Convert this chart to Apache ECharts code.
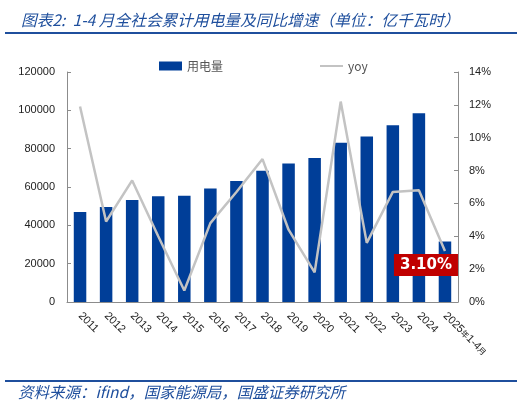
<!DOCTYPE html>
<html>
<head>
<meta charset="utf-8">
<script src="https://cdn.jsdelivr.net/npm/echarts@6/dist/echarts.min.js"></script>
<style>
    html, body { margin: 0; padding: 0; background: #fff; }
    #chart { width: 531px; height: 406px; }
</style>
</head>
<body>
<div id="chart"></div>
<script>
    // 数据
    const categories = ['2011', '2012', '2013', '2014', '2015', '2016', '2017', '2018',
        '2019', '2020', '2021', '2022', '2023', '2024', '2025年1-4月']
    const usageValues = [46928, 49591, 53223, 55233, 55500, 59198, 63077, 68449,
        72255, 75110, 83128, 86372, 92241, 98521, 31566]
    const yoyValues = [11.9, 4.9, 7.4, 4.0, 0.7, 4.8, 6.7, 8.7, 4.4, 1.8, 12.2, 3.6, 6.7, 6.8, 3.1]
    const leftTicks = [0, 20000, 40000, 60000, 80000, 100000, 120000]
    const rightTicks = [0, 2, 4, 6, 8, 10, 12, 14]

    const blue = '#003e98'
    const titleBlue = '#1f4f9d'
    const axisColor = '#8c8c8c'
    const lineGray = '#c3c3c3'
    const numFont = 'Liberation Sans'
    const cjkFont = 'Noto Sans CJK SC'

    // 最后一个点带红色标签
    const yoyData = yoyValues.map((v, i) => {
        if (i !== yoyValues.length - 1) return v
        return {
            value: v,
            label: {
                show: true,
                position: 'inside',
                offset: [-19, 14],
                formatter: v.toFixed(2) + '%',
                color: '#fff',
                fontWeight: 'bold',
                fontSize: 15,
                fontFamily: 'DejaVu Sans',
                backgroundColor: '#c00000',
                padding: [4, 6, 3, 6]
            }
        }
    })

    const chart = echarts.init(document.getElementById('chart'))
    const option = {
        animation: false,
        backgroundColor: '#fff',
        title: {
            text: '图表2:  1-4 月全社会累计用电量及同比增速（单位：亿千瓦时）',
            left: 16,
            top: 7,
            textStyle: {
                color: titleBlue,
                fontSize: 15.7,
                fontStyle: 'italic',
                fontWeight: 'normal',
                fontFamily: cjkFont
            }
        },
        graphic: [
            { type: 'rect', shape: { x: 5, y: 32, width: 512, height: 2 }, style: { fill: titleBlue } },
            { type: 'rect', shape: { x: 5, y: 380, width: 512, height: 2 }, style: { fill: titleBlue } },
            {
                type: 'text', left: 18, top: 384,
                style: {
                    text: '资料来源：ifind，国家能源局，国盛证券研究所',
                    fill: titleBlue, fontSize: 15.5, fontStyle: 'italic', fontFamily: cjkFont
                }
            }
        ],
        legend: {
            left: 159,
            top: 60,
            padding: 0,
            itemWidth: 23,
            itemHeight: 9,
            itemGap: 97,
            textStyle: { fontSize: 12, color: '#555', fontFamily: cjkFont },
            data: [
                { name: '用电量', icon: 'rect' },
                { name: 'yoy', icon: 'path://M0,0 h23 v2 h-23 z', itemStyle: { color: lineGray, opacity: 1 } }
            ]
        },
        grid: {
            left: 67,
            right: 73,
            top: 72,
            bottom: 104
        },
        xAxis: {
            type: 'category',
            data: categories,
            axisLine: { lineStyle: { color: axisColor } },
            axisTick: { inside: true, length: 4, lineStyle: { color: axisColor } },
            axisLabel: {
                rotate: -45,
                margin: 12,
                interval: 0,
                color: '#222',
                fontSize: 11,
                fontFamily: numFont,
                formatter: function (value) {
                    if (value.indexOf('年') < 0) return value
                    return '{a|2025}{b|年}{a|1-4}{b|月}'
                },
                rich: {
                    a: { fontSize: 11, fontFamily: numFont, color: '#222' },
                    b: { fontSize: 8, fontFamily: cjkFont, color: '#222' }
                }
            }
        },
        yAxis: [{
            type: 'value',
            min: leftTicks[0],
            max: leftTicks[leftTicks.length - 1],
            interval: leftTicks[1] - leftTicks[0],
            splitLine: { show: false },
            axisLine: { show: true, lineStyle: { color: axisColor } },
            axisTick: { show: true, inside: true, length: 4, lineStyle: { color: axisColor } },
            axisLabel: {
                margin: 12, color: '#222', fontSize: 11, fontFamily: numFont,
                formatter: function (value) { return String(value) }
            }
        }, {
            type: 'value',
            min: rightTicks[0],
            max: rightTicks[rightTicks.length - 1],
            interval: rightTicks[1] - rightTicks[0],
            splitLine: { show: false },
            axisLine: { show: true, lineStyle: { color: axisColor } },
            axisTick: { show: true, inside: true, length: 4, lineStyle: { color: axisColor } },
            axisLabel: { margin: 11, color: '#222', fontSize: 11, fontFamily: numFont, formatter: '{value}%' }
        }],
        series: [{
            name: '用电量',
            type: 'bar',
            data: usageValues,
            barWidth: '48%',
            itemStyle: { color: blue }
        }, {
            name: 'yoy',
            type: 'line',
            yAxisIndex: 1,
            data: yoyData,
            symbol: 'circle',
            symbolSize: 1,
            showSymbol: true,
            lineStyle: { color: lineGray, width: 2.5 },
            itemStyle: { color: 'rgba(0,0,0,0)', borderWidth: 0 },
            z: 3
        }]
    }
    chart.setOption(option)
</script>
</body>
</html>
